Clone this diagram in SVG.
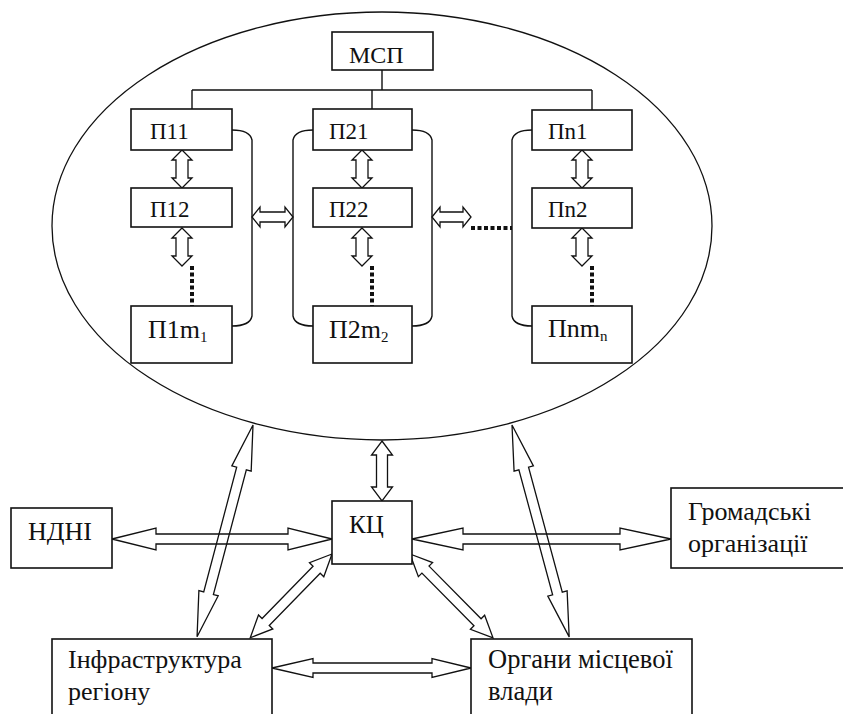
<svg xmlns="http://www.w3.org/2000/svg" width="843" height="714" viewBox="0 0 843 714">
<style>
.box{fill:#fff;stroke:#111;stroke-width:1.6}
.ln{fill:none;stroke:#111;stroke-width:1.4}
.arr{fill:none;stroke:#111;stroke-width:1.3;stroke-linejoin:miter}
.dot{fill:none;stroke:#111;stroke-width:4;stroke-dasharray:4,2.5}
</style>
<defs>
<polygon id="va" class="arr" points="0,0 10,-10 10,-6 28,-6 28,-10 38,0 28,10 28,6 10,6 10,10"/>
</defs>
<rect width="843" height="714" fill="#fff"/>
<ellipse id="system" cx="382" cy="226" rx="330" ry="214" fill="none" stroke="#111" stroke-width="1.3"/>

<g id="connectors">
<path class="ln" d="M382,70 V90 M192,90 H592 M192,90 V109 M372,90 V109 M592,90 V110"/>
<path class="ln" d="M232,130 Q250,130 252,140 V316 Q250,326 232,326"/>
<path class="ln" d="M313,130 Q295,130 293,140 V316 Q295,326 313,326"/>
<path class="ln" d="M412,130 Q430,130 432,140 V316 Q430,326 412,326"/>
<path class="ln" d="M532,130 Q514,130 512,140 V316 Q514,326 532,326"/>
<use href="#va" transform="translate(182,150) rotate(90)"/>
<use href="#va" transform="translate(182,228) rotate(90)"/>
<use href="#va" transform="translate(362,150) rotate(90)"/>
<use href="#va" transform="translate(362,228) rotate(90)"/>
<use href="#va" transform="translate(582,150) rotate(90)"/>
<use href="#va" transform="translate(582,228) rotate(90)"/>
<path class="dot" d="M192,266 V306 M372,266 V306 M592,266 V306 M471,228 H512"/>
<polygon class="arr" points="252,217 260,207 260,212 285,212 285,207 293,217 285,227 285,222 260,222 260,227"/>
<polygon class="arr" points="432,217 440,207 440,212 463,212 463,207 471,217 463,227 463,222 440,222 440,227"/>
<polygon class="arr" transform="translate(382,441) rotate(90)" points="0,0 14,-10.5 14,-5.5 46,-5.5 46,-10.5 60,0 46,10.5 46,5.5 14,5.5 14,10.5"/>
<polygon class="arr" points="112,539 156,528 156,534 288,534 288,528 332,539 288,550 288,544 156,544 156,550"/>
<polygon class="arr" points="412,539 463,528 463,534 620,534 620,528 671,539 620,550 620,544 463,544 463,550"/>
<polygon class="arr" points="272,668 313,658.5 313,663 432,663 432,658.5 471,668 432,677.5 432,673 313,673 313,677.5"/>
<polygon class="arr" transform="translate(253,425) rotate(104.8)" points="0,0 45,-10 45,-5 174,-5 174,-10 219,0 174,10 174,5 45,5 45,10"/>
<polygon class="arr" transform="translate(512,425) rotate(74.9)" points="0,0 45,-10 45,-5 174.5,-5 174.5,-10 219.5,0 174.5,10 174.5,5 45,5 45,10"/>
<polygon class="arr" transform="translate(332,554) rotate(134.3)" points="0,0 22,-10 22,-5 95,-5 95,-10 117,0 95,10 95,5 22,5 22,10"/>
<polygon class="arr" transform="translate(410,554) rotate(45.3)" points="0,0 22,-10 22,-5 96,-5 96,-10 118,0 96,10 96,5 22,5 22,10"/>
</g>

<g font-family="'Liberation Serif', 'DejaVu Serif', serif" fill="#111">
<g id="msp"><rect class="box" x="332" y="32" width="101" height="38"/><text x="349" y="63" font-size="24">МСП</text></g>
<g id="p11"><rect class="box" x="131" y="109" width="101" height="41"/><text x="150" y="139" font-size="23">П11</text></g>
<g id="p12"><rect class="box" x="131" y="188" width="101" height="39"/><text x="150" y="217" font-size="23">П12</text></g>
<g id="p1m1"><rect class="box" x="131" y="306" width="101" height="57"/><text x="148" y="338" font-size="26">П1m<tspan font-size="15" dy="4">1</tspan></text></g>
<g id="p21"><rect class="box" x="313" y="109" width="99" height="41"/><text x="329" y="139" font-size="23">П21</text></g>
<g id="p22"><rect class="box" x="313" y="188" width="99" height="39"/><text x="329" y="217" font-size="23">П22</text></g>
<g id="p2m2"><rect class="box" x="313" y="306" width="99" height="57"/><text x="329" y="338" font-size="26">П2m<tspan font-size="15" dy="4">2</tspan></text></g>
<g id="pn1"><rect class="box" x="532" y="110" width="100" height="40"/><text x="548" y="139" font-size="23">Пn1</text></g>
<g id="pn2"><rect class="box" x="532" y="188" width="100" height="40"/><text x="548" y="217" font-size="23">Пn2</text></g>
<g id="pnmn"><rect class="box" x="532" y="306" width="100" height="57"/><text x="548" y="337" font-size="26">Пnm<tspan font-size="15" dy="4">n</tspan></text></g>

<g id="ndni"><rect class="box" x="11" y="508" width="101" height="60"/><text x="28" y="540" font-size="26">НДНІ</text></g>
<g id="kc"><rect class="box" x="332" y="501" width="80" height="63"/><text x="349" y="533" font-size="25">КЦ</text></g>
<g id="gromadski"><rect class="box" x="671" y="488" width="180" height="80"/><text x="688" y="520" font-size="26">Громадські</text><text x="688" y="552" font-size="26">організації</text></g>
<g id="infra"><rect class="box" x="52" y="639" width="220" height="90"/><text x="68" y="668" font-size="26">Інфраструктура</text><text x="68" y="700" font-size="26">регіону</text></g>
<g id="organy"><rect class="box" x="471" y="639" width="221" height="90"/><text x="488" y="668" font-size="26.5">Органи місцевої</text><text x="488" y="700" font-size="26.5">влади</text></g>
</g>
</svg>
